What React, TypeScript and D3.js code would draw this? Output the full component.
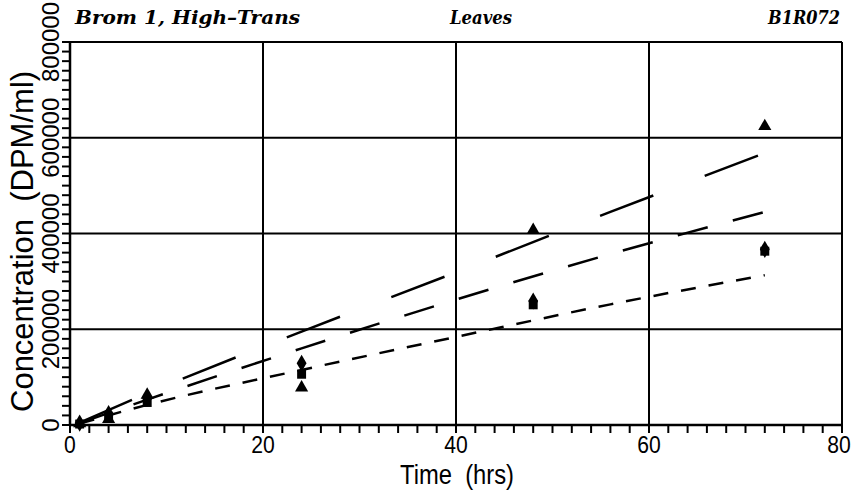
import React from "react";
import * as d3 from "d3";

// sample times (hrs) and measured concentrations (DPM/ml)
const times = [1, 4, 8, 24, 48, 72];
const triangleValues = [3000, 12000, 63000, 78000, 407000, 624000];
const squareValues = [2000, 17000, 47000, 106000, 251000, 363000];
const diamondValues = [4000, 24000, 56000, 129000, 259000, 367000];

// fitted curves
const fitTimes = [1, 8, 24, 40, 56, 72];
const fitLong = [5000, 66000, 195000, 319000, 445000, 568000];
const fitMedium = [4000, 53000, 160000, 262000, 357000, 445000];
const fitShort = [3000, 42000, 115000, 184000, 252000, 313000];

const xTickLabels = [0, 20, 40, 60, 80];
const yTickLabels = [0, 200000, 400000, 600000, 800000];

const width = 853;
const height = 500;
const margin = { left: 70, right: 11, top: 42, bottom: 75 };

export default function App() {
	const x = d3.scaleLinear().domain([0, 80]).range([margin.left, width - margin.right]);
	const y = d3.scaleLinear().domain([0, 800000]).range([height - margin.bottom, margin.top]);

	const line = d3.line<number>()
		.x((d, i) => x(fitTimes[i]))
		.y(d => y(d))
		.curve(d3.curveMonotoneX);

	const xMinor = d3.range(0, 81, 2);
	const yMinor = d3.range(0, 800001, 20000);
	const x0 = x(0), y0 = y(0);

	const tri = d3.symbol().type(d3.symbolTriangle).size(75);
	const sq = d3.symbol().type(d3.symbolSquare).size(80);
	const dia = d3.symbol().type(d3.symbolDiamond).size(85);

	const titleStyle = { fontFamily: "'DejaVu Serif', serif", fontWeight: "bold", fontStyle: "italic", fontSize: 19 };
	const axisFont = "'Liberation Sans', Arial, sans-serif";

	return (
		<div style={{ position: "absolute", left: 0, top: 0 }}>
			<svg width={width} height={height} style={{ background: "white", display: "block" }}>
				{/* header */}
				<text x={75} y={24} textLength={225} lengthAdjust="spacingAndGlyphs" {...titleStyle}>Brom 1, High–Trans</text>
				<text x={450} y={24} textLength={62} lengthAdjust="spacingAndGlyphs" {...titleStyle}>Leaves</text>
				<text x={768} y={24} textLength={72} lengthAdjust="spacingAndGlyphs" {...titleStyle}>B1R072</text>

				{/* grid */}
				{xTickLabels.slice(1).map(t => (
					<line key={"gx" + t} x1={x(t)} x2={x(t)} y1={y(800000)} y2={y0} stroke="black" strokeWidth={2} />
				))}
				{yTickLabels.slice(1).map(v => (
					<line key={"gy" + v} x1={x0} x2={x(80)} y1={y(v)} y2={y(v)} stroke="black" strokeWidth={2} />
				))}

				{/* axes */}
				<line x1={x0} x2={x0} y1={y(800000)} y2={y0} stroke="black" strokeWidth={2.5} />
				<line x1={x0} x2={x(80)} y1={y0} y2={y0} stroke="black" strokeWidth={2.5} />
				{xMinor.map(t => (
					<line key={"tx" + t} x1={x(t)} x2={x(t)} y1={y0} y2={y0 + 8} stroke="black" strokeWidth={2} />
				))}
				{yMinor.map(v => (
					<line key={"ty" + v} x1={x0} x2={x0 - 8} y1={y(v)} y2={y(v)} stroke="black" strokeWidth={2} />
				))}
				{xTickLabels.map(t => {
					const px = Math.min(x(t), 839);
					return (
						<text key={"lx" + t} x={0} y={453} textAnchor="middle" fontFamily={axisFont} fontSize={23}
							transform={`translate(${px},0) scale(0.92,1)`}>{t}</text>
					);
				})}
				{yTickLabels.map(v => (
					<text key={"ly" + v} transform={`translate(59,${y(v)}) rotate(-90)`}
						textAnchor="middle" fontFamily={axisFont} fontSize={24}>{v}</text>
				))}
				<text transform="translate(457,484) scale(0.88,1)" textAnchor="middle" fontFamily={axisFont} fontSize={27}
					style={{ whiteSpace: "pre" }}>Time  (hrs)</text>
				<text transform="translate(33,412) rotate(-90)" textAnchor="start" fontFamily={axisFont} fontSize={31}
					style={{ whiteSpace: "pre" }}>Concentration  (DPM/ml)</text>

				{/* fitted curves */}
				<path d={line(fitLong) || ""} fill="none" stroke="black" strokeWidth={2.5} strokeDasharray="57 55" />
				<path d={line(fitMedium) || ""} fill="none" stroke="black" strokeWidth={2.5} strokeDasharray="31 26" />
				<path d={line(fitShort) || ""} fill="none" stroke="black" strokeWidth={2.5} strokeDasharray="15 13" />

				{/* observations */}
				{times.map((t, i) => (
					<g key={"m" + t}>
						<path d={tri() || ""} transform={`translate(${x(t)},${y(triangleValues[i])})`} fill="black" />
						<path d={sq() || ""} transform={`translate(${x(t)},${y(squareValues[i])})`} fill="black" />
						<path d={dia() || ""} transform={`translate(${x(t)},${y(diamondValues[i])})`} fill="black" />
					</g>
				))}
			</svg>
		</div>
	);
}
